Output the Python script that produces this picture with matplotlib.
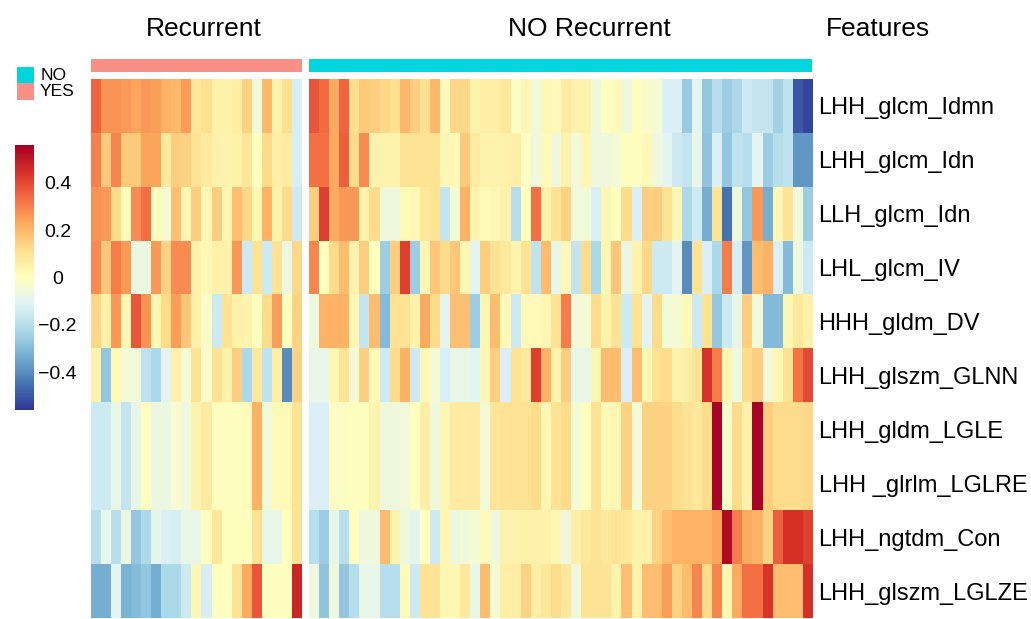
import numpy as np
import matplotlib
matplotlib.use("Agg")
import matplotlib.pyplot as plt
from matplotlib.colors import ListedColormap

plt.rcParams['font.family'] = ['Liberation Sans', 'DejaVu Sans']

features = ['LHH_glcm_Idmn', 'LHH_glcm_Idn', 'LLH_glcm_Idn', 'LHL_glcm_IV',
            'HHH_gldm_DV', 'LHH_glszm_GLNN', 'LHH_gldm_LGLE',
            'LHH _glrlm_LGLRE', 'LHH_ngtdm_Con', 'LHH_glszm_LGLZE']

# Recurrent samples (21 columns)
rec_idmn = [0.35, 0.27, 0.27, 0.26, 0.24, 0.26, 0.25, 0.21, 0.20, 0.25, 0.09, 0.11, 0.05, 0.05, 0.06, 0.14, -0.05, 0.20, 0.05, 0.11, -0.13]
rec_idn = [0.30, 0.16, 0.29, 0.16, 0.16, 0.24, 0.24, 0.08, 0.15, 0.14, 0.10, 0.07, 0.05, 0.04, 0.05, 0.09, 0.00, 0.12, 0.06, 0.07, -0.13]
rec_llh = [0.27, 0.26, 0.12, 0.01, 0.28, 0.33, 0.01, -0.04, 0.18, 0.03, 0.15, 0.03, 0.15, 0.03, 0.18, 0.13, 0.03, 0.21, 0.04, 0.12, -0.15]
rec_lhl = [0.28, 0.17, 0.31, 0.26, -0.07, -0.07, 0.26, 0.14, 0.28, 0.28, 0.04, 0.02, 0.05, 0.05, 0.26, -0.15, 0.10, -0.15, 0.10, -0.07, 0.13]
rec_hhh = [0.13, 0.05, 0.26, 0.03, 0.38, 0.27, 0.03, 0.12, 0.25, 0.17, 0.05, -0.02, -0.15, 0.10, 0.05, 0.04, 0.00, 0.12, 0.25, 0.00, 0.14]
rec_glnn = [0.04, -0.27, 0.02, -0.04, -0.05, -0.18, -0.22, -0.10, 0.05, -0.04, 0.10, -0.02, 0.10, 0.05, 0.15, -0.22, 0.08, -0.18, 0.06, -0.40, 0.14]
rec_lgle = [-0.15, -0.15, -0.08, -0.17, -0.08, 0.00, -0.07, -0.07, -0.03, -0.06, 0.04, 0.07, 0.00, 0.00, 0.00, 0.01, 0.21, -0.05, 0.02, 0.02, 0.10]
rec_lglre = [-0.15, -0.15, -0.08, -0.17, -0.08, 0.00, -0.07, -0.07, -0.03, -0.06, 0.04, 0.07, 0.00, 0.00, 0.00, 0.01, 0.21, -0.05, 0.02, 0.02, 0.10]
rec_con = [-0.20, -0.08, -0.20, -0.07, -0.27, -0.22, -0.09, -0.12, -0.13, -0.08, -0.08, 0.00, 0.08, 0.00, 0.00, 0.00, 0.10, -0.08, -0.08, 0.00, 0.10]
rec_lglze = [-0.33, -0.33, -0.10, -0.32, -0.30, -0.27, -0.33, -0.22, -0.22, -0.15, 0.03, -0.13, 0.00, 0.00, 0.10, 0.23, 0.38, 0.00, 0.00, 0.00, 0.47]

# NO Recurrent samples (50 columns)
no_idmn = [0.38, 0.34, 0.23, 0.35, 0.11, 0.16, 0.15, 0.13, 0.11, 0.20, 0.15, 0.11, 0.20, 0.02, 0.13, 0.13, 0.04, 0.06, 0.06, 0.08, -0.01, 0.03, -0.06, 0.03, 0.02,
           0.07, 0.04, 0.04, -0.06, 0.00, 0.01, -0.06, 0.00, -0.02, -0.04, -0.12, -0.12, -0.26, -0.10, -0.27, -0.20, -0.25, -0.22, -0.15, -0.17, -0.17, -0.24, -0.18, -0.50, -0.53]
no_idn = [0.33, 0.33, 0.23, 0.36, 0.12, 0.28, 0.04, 0.04, 0.04, 0.10, 0.10, 0.10, 0.10, 0.03, 0.02, 0.16, 0.07, 0.04, 0.04, 0.05, 0.06, -0.01, -0.06, 0.02, -0.06,
          0.04, -0.05, 0.03, -0.06, -0.06, -0.04, 0.00, 0.00, 0.02, -0.06, -0.10, -0.15, -0.17, -0.08, -0.28, -0.12, -0.27, -0.18, -0.20, -0.10, -0.25, -0.20, -0.18, -0.38, -0.38]
no_llh = [0.15, 0.42, 0.23, 0.26, 0.26, 0.04, 0.12, -0.06, -0.06, 0.02, 0.03, 0.08, 0.10, -0.17, -0.04, 0.21, 0.04, 0.02, 0.03, 0.04, -0.20, 0.00, 0.33, 0.04, 0.10,
          0.14, -0.05, -0.05, -0.12, 0.03, 0.00, 0.12, -0.12, 0.15, 0.15, 0.10, 0.03, -0.22, -0.15, -0.33, 0.10, -0.45, -0.06, -0.27, 0.26, -0.33, 0.03, 0.10, -0.05, -0.25]
no_lhl = [0.29, 0.00, 0.12, 0.19, 0.04, 0.15, 0.00, -0.25, 0.15, 0.42, -0.25, 0.03, 0.17, 0.12, 0.17, 0.03, -0.10, 0.15, 0.10, 0.08, 0.04, 0.10, -0.18, 0.19, -0.08,
          0.02, -0.17, 0.12, -0.22, 0.03, 0.17, -0.07, 0.04, 0.13, -0.15, -0.15, -0.10, -0.40, 0.10, -0.12, -0.22, 0.31, -0.13, -0.38, 0.19, 0.21, -0.12, -0.30, -0.06, -0.15]
no_hhh = [-0.06, 0.21, 0.21, 0.21, 0.03, -0.17, 0.19, -0.30, 0.10, 0.10, 0.04, 0.23, 0.12, -0.10, 0.18, 0.18, -0.25, 0.03, 0.19, 0.02, -0.15, 0.02, 0.02, 0.03, 0.10,
          0.31, -0.05, -0.04, 0.12, 0.04, 0.10, -0.15, 0.10, -0.10, 0.12, -0.04, -0.04, 0.02, -0.15, 0.10, -0.27, -0.15, -0.08, 0.15, -0.05, -0.30, -0.30, 0.03, 0.08, 0.05]
no_glnn = [-0.08, -0.08, 0.03, 0.10, -0.04, 0.15, 0.02, -0.15, 0.12, 0.21, -0.15, 0.02, -0.04, -0.12, -0.08, -0.08, -0.10, 0.03, 0.15, -0.12, 0.10, 0.08, 0.42, 0.21, 0.04,
           0.15, -0.08, -0.08, 0.03, 0.19, 0.19, -0.12, 0.19, 0.03, 0.10, 0.12, 0.05, 0.06, 0.10, 0.44, 0.31, 0.03, -0.06, 0.12, 0.15, -0.05, 0.03, 0.10, 0.32, 0.40]
no_lgle = [-0.12, -0.12, -0.01, -0.01, 0.00, 0.00, 0.04, -0.06, -0.06, -0.05, 0.00, 0.06, -0.06, 0.03, 0.07, 0.07, 0.07, -0.05, 0.09, 0.10, 0.10, 0.10, 0.12, 0.03, 0.10,
           0.12, -0.04, 0.00, 0.10, 0.02, 0.03, 0.14, -0.04, 0.14, 0.14, 0.14, 0.12, 0.10, 0.08, 0.12, 0.55, -0.02, 0.12, 0.05, 0.55, 0.15, 0.12, 0.12, 0.12, 0.13]
no_lglre = [-0.12, -0.12, -0.01, -0.01, 0.00, 0.00, 0.04, -0.06, -0.06, -0.05, 0.00, 0.06, -0.06, 0.03, 0.07, 0.07, 0.07, -0.05, 0.09, 0.10, 0.10, 0.10, 0.12, 0.03, 0.10,
            0.12, -0.04, 0.00, 0.10, 0.02, 0.03, 0.14, -0.04, 0.14, 0.14, 0.14, 0.12, 0.10, 0.08, 0.12, 0.55, -0.02, 0.12, 0.05, 0.55, 0.15, 0.12, 0.12, 0.12, 0.13]
no_con = [-0.20, -0.25, -0.08, -0.20, 0.00, -0.06, -0.06, 0.19, 0.04, -0.06, -0.10, 0.00, -0.15, 0.03, -0.07, -0.05, -0.04, 0.02, -0.06, 0.04, 0.04, 0.05, 0.05, 0.05, 0.03,
          -0.06, 0.06, 0.08, 0.10, 0.08, 0.10, 0.08, 0.05, 0.05, 0.14, 0.19, 0.21, 0.21, 0.21, 0.21, 0.24, 0.53, 0.31, 0.23, 0.21, 0.14, 0.36, 0.45, 0.45, 0.42]
no_lglze = [-0.06, -0.28, -0.06, -0.27, -0.20, -0.08, -0.08, -0.20, -0.20, 0.02, -0.15, 0.10, 0.10, 0.03, 0.03, 0.08, -0.08, 0.19, -0.04, 0.06, 0.06, 0.14, 0.06, 0.08, 0.12,
            0.08, -0.06, 0.10, 0.10, 0.10, 0.04, 0.18, 0.04, 0.19, 0.19, 0.25, 0.14, 0.19, 0.29, 0.12, 0.29, 0.03, 0.23, 0.33, 0.33, 0.44, 0.19, 0.19, 0.19, 0.45]

rec = np.array([rec_idmn, rec_idn, rec_llh, rec_lhl, rec_hhh, rec_glnn, rec_lgle, rec_lglre, rec_con, rec_lglze])
norec = np.array([no_idmn, no_idn, no_llh, no_lhl, no_hhh, no_glnn, no_lgle, no_lglre, no_con, no_lglze])

cb_ticks = [0.4, 0.2, 0, -0.2, -0.4]
cb_labels = ['0.4', '0.2', '0', '\u22120.2', '\u22120.4']
vmax = 0.56

col_no = '#00D4DC'
col_yes = '#F99087'
cmap = plt.get_cmap('RdYlBu_r')

W, H = 1031, 619
fig = plt.figure(figsize=(W / 100, H / 100), dpi=100)


def px_axes(x0, y0, x1, y1):
    return fig.add_axes([x0 / W, 1 - y1 / H, (x1 - x0) / W, (y1 - y0) / H])


ax_rec = px_axes(91, 79, 302, 618)
ax_no = px_axes(309, 79, 813, 618)
im = ax_rec.imshow(rec, cmap=cmap, vmin=-vmax, vmax=vmax, aspect='auto', interpolation='nearest')
ax_no.imshow(norec, cmap=cmap, vmin=-vmax, vmax=vmax, aspect='auto', interpolation='nearest')
for ax in (ax_rec, ax_no):
    ax.set_xticks([])
    for s in ax.spines.values():
        s.set_visible(False)
ax_rec.set_yticks([])
ax_no.yaxis.tick_right()
ax_no.set_yticks(range(len(features)))
ax_no.set_yticklabels(features, fontsize=17)
ax_no.tick_params(axis='y', length=0, pad=4)

# group annotation bars
ann_cmap = ListedColormap([col_yes, col_no])
ax_a1 = px_axes(91, 59, 302, 72)
ax_a2 = px_axes(309, 59, 812, 72)
ax_a1.imshow([[0] * rec.shape[1]], cmap=ann_cmap, vmin=0, vmax=1, aspect='auto')
ax_a2.imshow([[1] * norec.shape[1]], cmap=ann_cmap, vmin=0, vmax=1, aspect='auto')
for ax in (ax_a1, ax_a2):
    ax.axis('off')

fig.text(204 / W, 1 - 29 / H, 'Recurrent', fontsize=19, ha='center', va='center')
fig.text(589 / W, 1 - 29 / H, 'NO Recurrent', fontsize=19, ha='center', va='center')
fig.text(826 / W, 1 - 29 / H, 'Features', fontsize=19, ha='left', va='center')

# group legend
ax_leg = px_axes(17, 67, 34, 100)
ax_leg.imshow([[1], [0]], cmap=ann_cmap, vmin=0, vmax=1, aspect='auto')
ax_leg.axis('off')
fig.text(41 / W, 1 - 75 / H, 'NO', fontsize=12.5, ha='left', va='center')
fig.text(40 / W, 1 - 92 / H, 'YES', fontsize=12.5, ha='left', va='center')

# colour bar
cax = px_axes(15, 145, 34, 410)
cb = fig.colorbar(im, cax=cax, ticks=cb_ticks)
cb.outline.set_visible(False)
cb.set_ticklabels(cb_labels)
cax.tick_params(length=0, pad=17, labelsize=14)
for t in cax.get_yticklabels():
    t.set_horizontalalignment('center')

fig.savefig('out.png', dpi=100)
